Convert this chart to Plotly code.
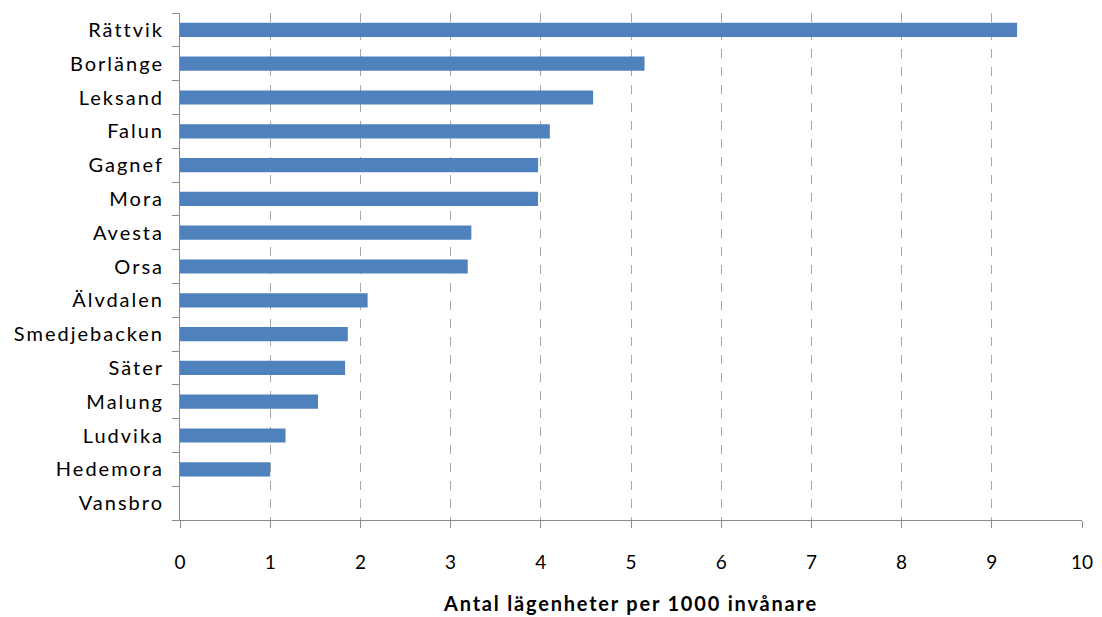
import plotly.graph_objects as go

# Kommuner i Dalarna, ordnade uppifrån och ned
kommuner = ["Rättvik", "Borlänge", "Leksand", "Falun", "Gagnef", "Mora", "Avesta",
            "Orsa", "Älvdalen", "Smedjebacken", "Säter", "Malung", "Ludvika",
            "Hedemora", "Vansbro"]
lagenheter_per_1000 = [9.28, 5.15, 4.58, 4.10, 3.97, 3.97, 3.23,
                       3.19, 2.08, 1.86, 1.83, 1.53, 1.17,
                       1.00, 0.0]
x_ticks = list(range(0, 11))
x_title = "Antal lägenheter per 1000 invånare"

font_family = "Lato, 'Open Sans', sans-serif"

fig = go.Figure(
    go.Bar(
        x=lagenheter_per_1000,
        y=kommuner,
        orientation="h",
        marker=dict(color="#4f81bd", line=dict(width=0)),
        hoverinfo="x+y",
    )
)

fig.update_layout(
    width=1102,
    height=617,
    margin=dict(l=180, r=20, t=13, b=97, autoexpand=False),
    paper_bgcolor="white",
    plot_bgcolor="white",
    bargap=0.58,
    showlegend=False,
    font=dict(family=font_family, size=19, color="black"),
)

fig.update_xaxes(
    automargin=False,
    range=[0, 10],
    tickvals=x_ticks,
    ticktext=[str(v) for v in x_ticks],
    showgrid=True,
    gridcolor="#a6a6a6",
    griddash="dash",
    gridwidth=1,
    zeroline=False,
    showline=True,
    linecolor="#8c8c8c",
    linewidth=1,
    ticks="outside",
    ticklen=7,
    tickcolor="#8c8c8c",
    ticklabelstandoff=18,
    tickfont=dict(size=19, family=font_family, color="black"),
    title=dict(text="<b>" + x_title + "</b>", font=dict(size=20, family=font_family, color="black"), standoff=25),
)

fig.update_yaxes(
    automargin=False,
    categoryorder="array",
    categoryarray=kommuner[::-1],
    autorange=False,
    range=[-0.5, len(kommuner) - 0.5],
    showgrid=False,
    zeroline=False,
    showline=True,
    linecolor="#8c8c8c",
    linewidth=1,
    ticks="outside",
    tickson="boundaries",
    ticklen=7,
    tickcolor="#8c8c8c",
    ticklabelstandoff=11,
    tickfont=dict(size=20, family=font_family, color="black"),
)

# Slightly looser letter spacing for the category labels and the axis title
spacing_css = (
    "var s=document.createElement('style');"
    "s.textContent='.ytick text{letter-spacing:2px}.xtitle{letter-spacing:1.8px}';"
    "document.head.appendChild(s);"
)

fig.write_html("out.html", post_script=spacing_css)
